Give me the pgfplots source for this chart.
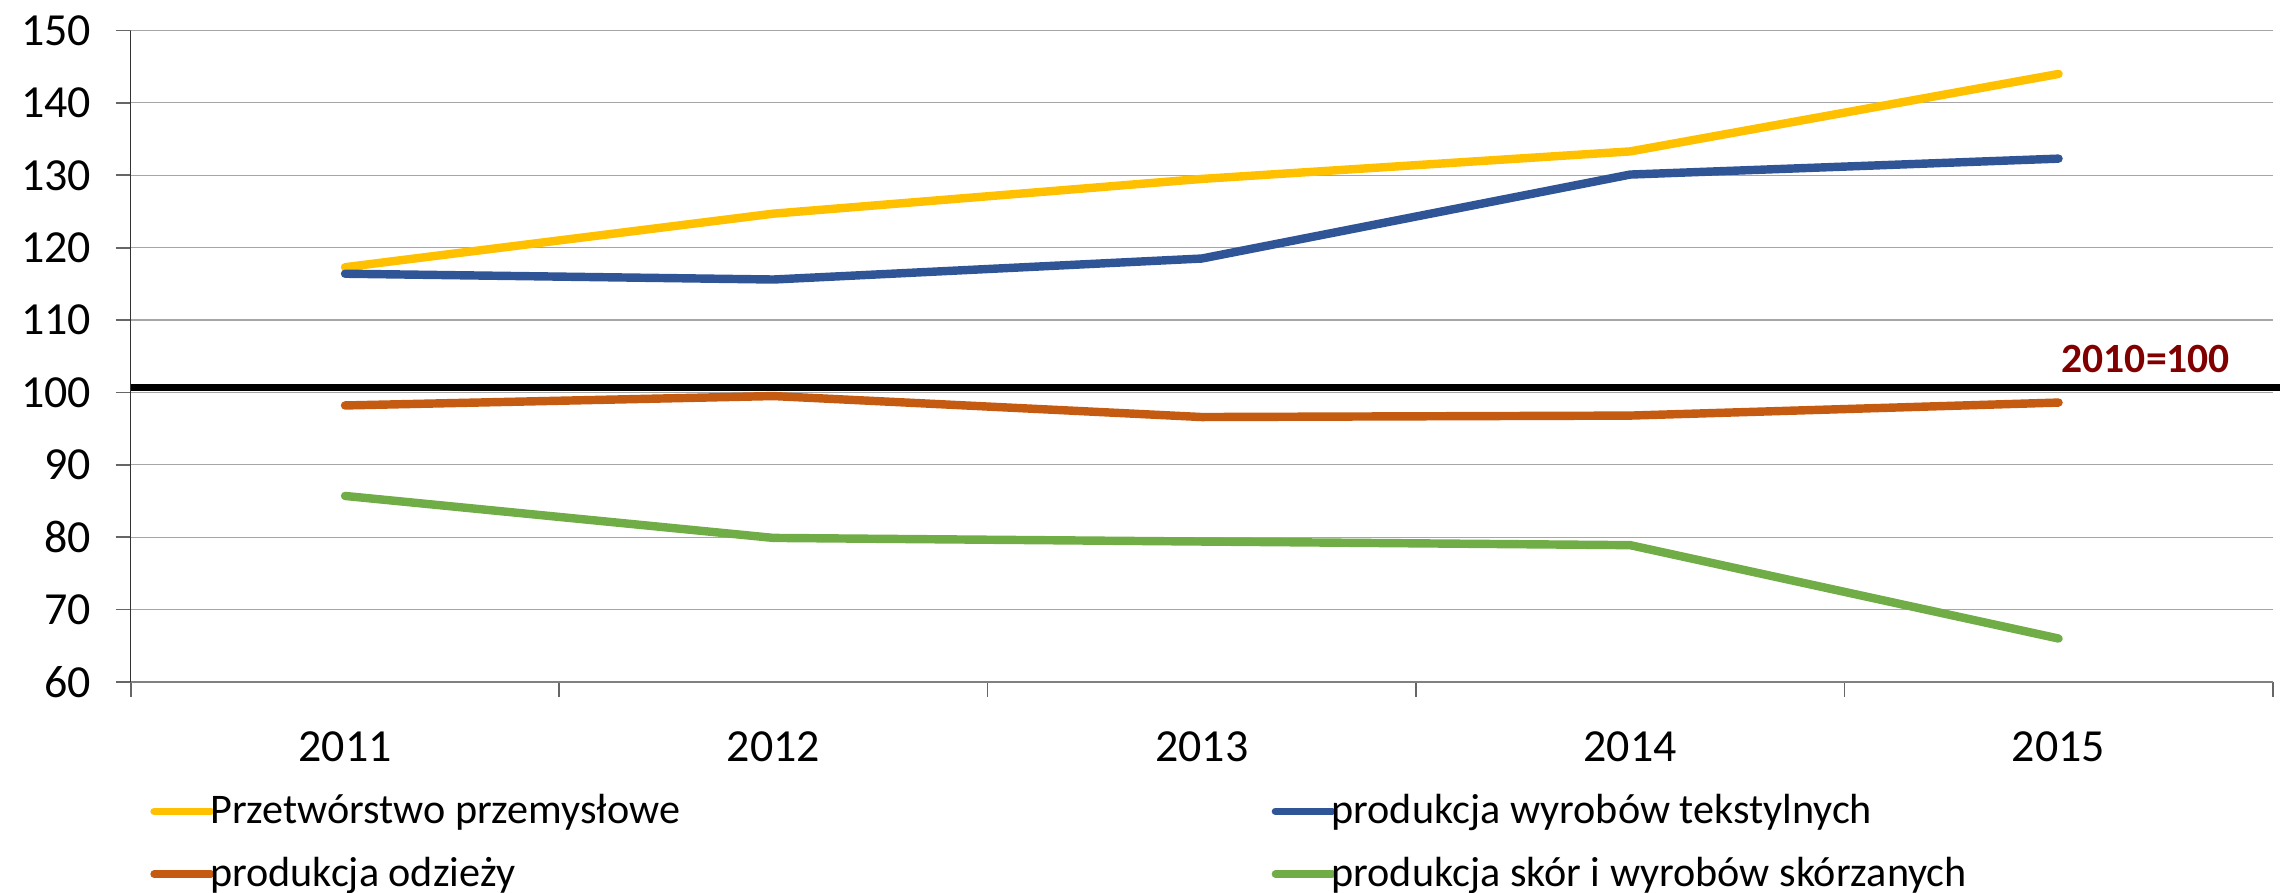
\documentclass[border=0pt]{standalone}
\usepackage{fontspec}
\setmainfont{Carlito}
\usepackage{pgfplots}
\pgfplotsset{compat=1.18}

\definecolor{cPrz}{HTML}{FFC000}
\definecolor{cTek}{HTML}{2F5597}
\definecolor{cOdz}{HTML}{C55A11}
\definecolor{cSko}{HTML}{70AD47}
\definecolor{cLab}{HTML}{800000}

\begin{document}
\begin{tikzpicture}
\begin{axis}[
    scale only axis,
    width=736.5pt,
    height=224pt,
    xmin=0.5, xmax=5.5,
    ymin=60, ymax=150,
    clip=false,
    axis x line*=bottom,
    axis y line*=left,
    axis line style={-},
    x axis line style={draw=black!50},
    y axis line style={draw=black!80},
    tick align=outside,
    major tick length=5.2pt,
    tick style={black!60, line width=0.6pt},
    ytick={60,70,...,150},
    xtick={0.5,1.5,...,5.5},
    xticklabels={},
    extra x ticks={1,2,3,4,5},
    extra x tick labels={2011,2012,2013,2014,2015},
    extra x tick style={major tick length=0pt, grid=none},
    ymajorgrids,
    major grid style={black!35, line width=0.4pt},
    tick label style={font=\fontsize{15.8}{18}\selectfont},
    /pgf/number format/assume math mode=true,
    yticklabel style={xshift=-5pt},
    xticklabel style={yshift=-13.5pt},
    legend columns=2,
    legend cell align=left,
    legend style={
        draw=none, fill=none,
        at={(axis description cs:0,0)}, anchor=north west,
        xshift=6.5pt, yshift=-37.5pt,
        font=\fontsize{14.5}{17}\selectfont,
        inner sep=0pt,
        nodes={inner xsep=0.5pt, inner ysep=1pt},
        row sep=8pt,
        /tikz/every odd column/.append style={column sep=-2pt},
        /tikz/every even column/.append style={column sep=203pt},
    },
    legend image code/.code={
        \draw[#1, line width=2.6pt, line cap=round] (0pt,0pt) -- (19.5pt,0pt);
    },
]
\coordinate (sw) at (rel axis cs:0,0);
\coordinate (ne) at (rel axis cs:1,1);

% Przetworstwo przemyslowe
\addplot[cPrz, line width=2.9pt, line cap=round, line join=round]
coordinates {(1,117.3) (2,124.7) (3,129.5) (4,133.3) (5,144.0)};
\addlegendentry{Przetwórstwo przemysłowe}

% produkcja wyrobow tekstylnych
\addplot[cTek, line width=2.9pt, line cap=round, line join=round]
coordinates {(1,116.4) (2,115.6) (3,118.5) (4,130.1) (5,132.3)};
\addlegendentry{produkcja wyrobów tekstylnych}

% produkcja odziezy
\addplot[cOdz, line width=2.9pt, line cap=round, line join=round]
coordinates {(1,98.2) (2,99.5) (3,96.6) (4,96.8) (5,98.6)};
\addlegendentry{produkcja odzieży}

% produkcja skor i wyrobow skorzanych
\addplot[cSko, line width=2.9pt, line cap=round, line join=round]
coordinates {(1,85.7) (2,79.9) (3,79.4) (4,78.9) (5,66.0)};
\addlegendentry{produkcja skór i wyrobów skórzanych}

% base line 2010=100
\addplot[black, line width=2.3pt, forget plot]
coordinates {(0.5,100.7) (5.53,100.7)};
\node[anchor=base west, inner sep=0pt, text=cLab,
      font=\fontsize{14.3}{16}\selectfont\bfseries]
    at (axis cs:5.006,102.8) {2010=100};
\end{axis}
\pgfresetboundingbox
\path[use as bounding box] ([xshift=-45pt,yshift=-72.5pt]sw) rectangle ([xshift=2.5pt,yshift=10.5pt]ne);
\end{tikzpicture}
\end{document}
